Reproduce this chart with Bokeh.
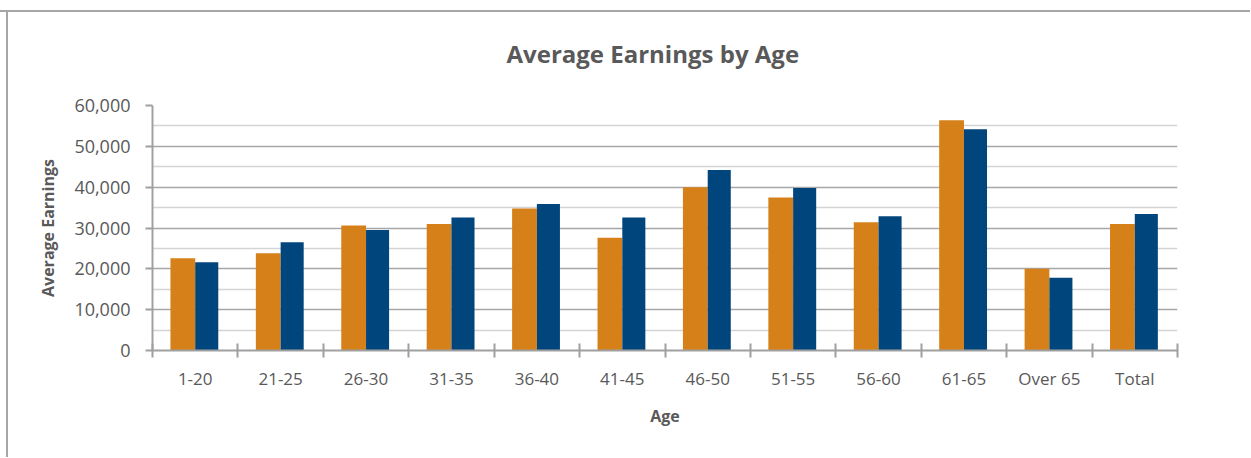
from bokeh.plotting import figure
from bokeh.models import FixedTicker, NumeralTickFormatter, Range1d, ColumnDataSource
from bokeh.transform import dodge
from bokeh.embed import file_html
from bokeh.resources import INLINE

title_text = "Average Earnings by Age"
ages = ["1-20", "21-25", "26-30", "31-35", "36-40", "41-45", "46-50",
        "51-55", "56-60", "61-65", "Over 65", "Total"]
series_a = [22600, 23800, 30600, 31000, 34800, 27600, 40000, 37500, 31400, 56400, 20000, 31000]
series_b = [21600, 26500, 29500, 32600, 35900, 32600, 44200, 39800, 32900, 54200, 17800, 33400]
y_major = [0, 10000, 20000, 30000, 40000, 50000, 60000]
y_minor = [5000, 15000, 25000, 35000, 45000, 55000]

centers = [i + 0.5 for i in range(len(ages))]
bounds = [i for i in range(len(ages) + 1)]

src = ColumnDataSource(dict(x=centers, a=series_a, b=series_b))

GRAY = "#595959"
FONT = "Open Sans"

p = figure(width=1250, height=457, frame_width=1025, frame_height=245,
           min_border_left=152, min_border_top=105, min_border_right=73,
           min_border_bottom=107,
           output_backend="svg", toolbar_location=None,
           x_range=Range1d(0, len(ages)), y_range=Range1d(0, y_major[-1]),
           title=title_text)
p.styles = {
    "background": "linear-gradient(#a6a6a6, #a6a6a6) 0px 10px / 100% 2px no-repeat, "
                  "linear-gradient(#a6a6a6, #a6a6a6) 6px 10px / 2px 100% no-repeat, white",
}
p.border_fill_color = None
p.background_fill_color = "white"
p.outline_line_color = None

p.title.align = "left"
p.title.vertical_align = "middle"
p.title.text_font = FONT
p.title.text_font_size = "24px"
p.title.text_font_style = "bold"
p.title.text_color = GRAY
p.title.offset = 354
p.title.standoff = 69

p.vbar(x=dodge("x", -0.145, range=p.x_range), top="a", width=0.29, source=src,
       fill_color="#D6801A", line_color=None)
p.vbar(x=dodge("x", 0.135, range=p.x_range), top="b", width=0.27, source=src,
       fill_color="#00457C", line_color=None)

# x axis
xa = p.xaxis[0]
xa.ticker = FixedTicker(ticks=centers, minor_ticks=bounds)
xa.major_label_overrides = {c: lab for c, lab in zip(centers, ages)}
xa.major_tick_line_color = None
xa.minor_tick_in = 7
xa.minor_tick_out = 7
xa.minor_tick_line_color = "#a0a0a0"
xa.minor_tick_line_width = 2
xa.axis_line_color = "#a0a0a0"
xa.axis_line_width = 2
xa.major_label_text_font = FONT
xa.major_label_text_font_size = "17px"
xa.major_label_text_color = GRAY
xa.major_label_standoff = 9
xa.axis_label = "Age"
xa.axis_label_text_font = FONT
xa.axis_label_text_font_size = "16px"
xa.axis_label_text_font_style = "bold"
xa.axis_label_text_color = GRAY
xa.axis_label_standoff = 12

# y axis
ya = p.yaxis[0]
ya.ticker = FixedTicker(ticks=y_major, minor_ticks=y_minor)
ya.formatter = NumeralTickFormatter(format="0,0")
ya.major_tick_in = 0
ya.major_tick_out = 7
ya.minor_tick_in = 0
ya.minor_tick_out = 0
ya.major_tick_line_color = "#a0a0a0"
ya.major_tick_line_width = 2
ya.axis_line_color = "#a0a0a0"
ya.axis_line_width = 2
ya.major_label_text_font = FONT
ya.major_label_text_font_size = "18px"
ya.major_label_text_color = GRAY
ya.major_label_standoff = 15
ya.axis_label = "Average Earnings"
ya.axis_label_text_font = FONT
ya.axis_label_text_font_size = "16px"
ya.axis_label_text_font_style = "bold"
ya.axis_label_text_color = GRAY
ya.axis_label_standoff = 12

p.xgrid.grid_line_color = None
p.ygrid.grid_line_color = "#a6a6a6"
p.ygrid.grid_line_width = 1.5
p.ygrid.minor_grid_line_color = "#d4d4d4"
p.ygrid.minor_grid_line_width = 1.5

open("out.html", "w").write(file_html(p, INLINE))
